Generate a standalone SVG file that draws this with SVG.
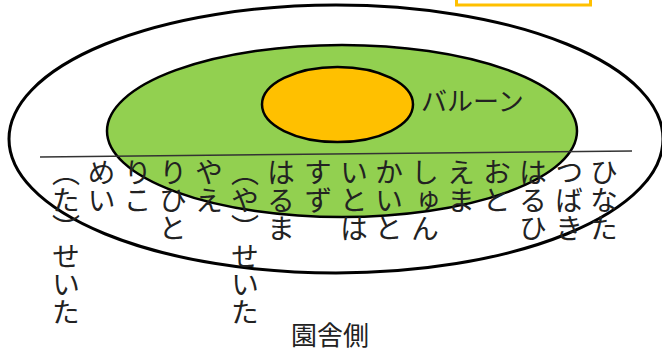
<svg xmlns="http://www.w3.org/2000/svg" width="662" height="351" viewBox="0 0 662 351">
<style>
.outer{fill:#fff;stroke:#000;stroke-width:3}
.zone{fill:#92D050;stroke:#000;stroke-width:2.5}
.balloon{fill:#FFC000;stroke:#000;stroke-width:2.5}
.frame{fill:none;stroke:#FFC000;stroke-width:3}
.sep{stroke:#333;stroke-width:1.5}
.lbl{font-family:"Noto Sans CJK JP","Noto Sans",sans-serif;fill:#222}
.col{font-family:"Noto Sans CJK JP","Noto Sans",sans-serif;font-size:28px;fill:#222;writing-mode:vertical-rl}
</style>
<rect width="662" height="351" fill="#fff"/>
<g id="frame"><rect class="frame" x="456.5" y="-20" width="134" height="25"/></g>
<g id="outer-area"><ellipse class="outer" cx="336" cy="139" rx="327" ry="134"/></g>
<g id="inner-area"><ellipse class="zone" cx="342" cy="131" rx="235" ry="86"/></g>
<g id="balloon"><ellipse class="balloon" cx="337.5" cy="104.5" rx="75.5" ry="37.5"/>
<text class="lbl" x="421" y="111" font-size="26">バルーン</text></g>
<g id="connectors"><line class="sep" x1="40" y1="157" x2="632" y2="151"/></g>
<g id="names">
<text class="col" x="66" y="158">（た）せいた</text>
<text class="col" x="101.5" y="158">めい</text>
<text class="col" x="137.5" y="158">りこ</text>
<text class="col" x="173" y="158">りひと</text>
<text class="col" x="209" y="158">やえ</text>
<text class="col" x="245" y="158">（や）せいた</text>
<text class="col" x="281" y="158">はるま</text>
<text class="col" x="318" y="158">すず</text>
<text class="col" x="354" y="158">いとは</text>
<text class="col" x="389" y="158">かいと</text>
<text class="col" x="425" y="158">しゅん</text>
<text class="col" x="461" y="158">えま</text>
<text class="col" x="497" y="158">おと</text>
<text class="col" x="533" y="158">はるひ</text>
<text class="col" x="569" y="158">つばき</text>
<text class="col" x="604" y="158">ひなた</text>
</g>
<g id="building"><text class="lbl" x="291" y="345" font-size="26">園舎側</text></g>
</svg>
